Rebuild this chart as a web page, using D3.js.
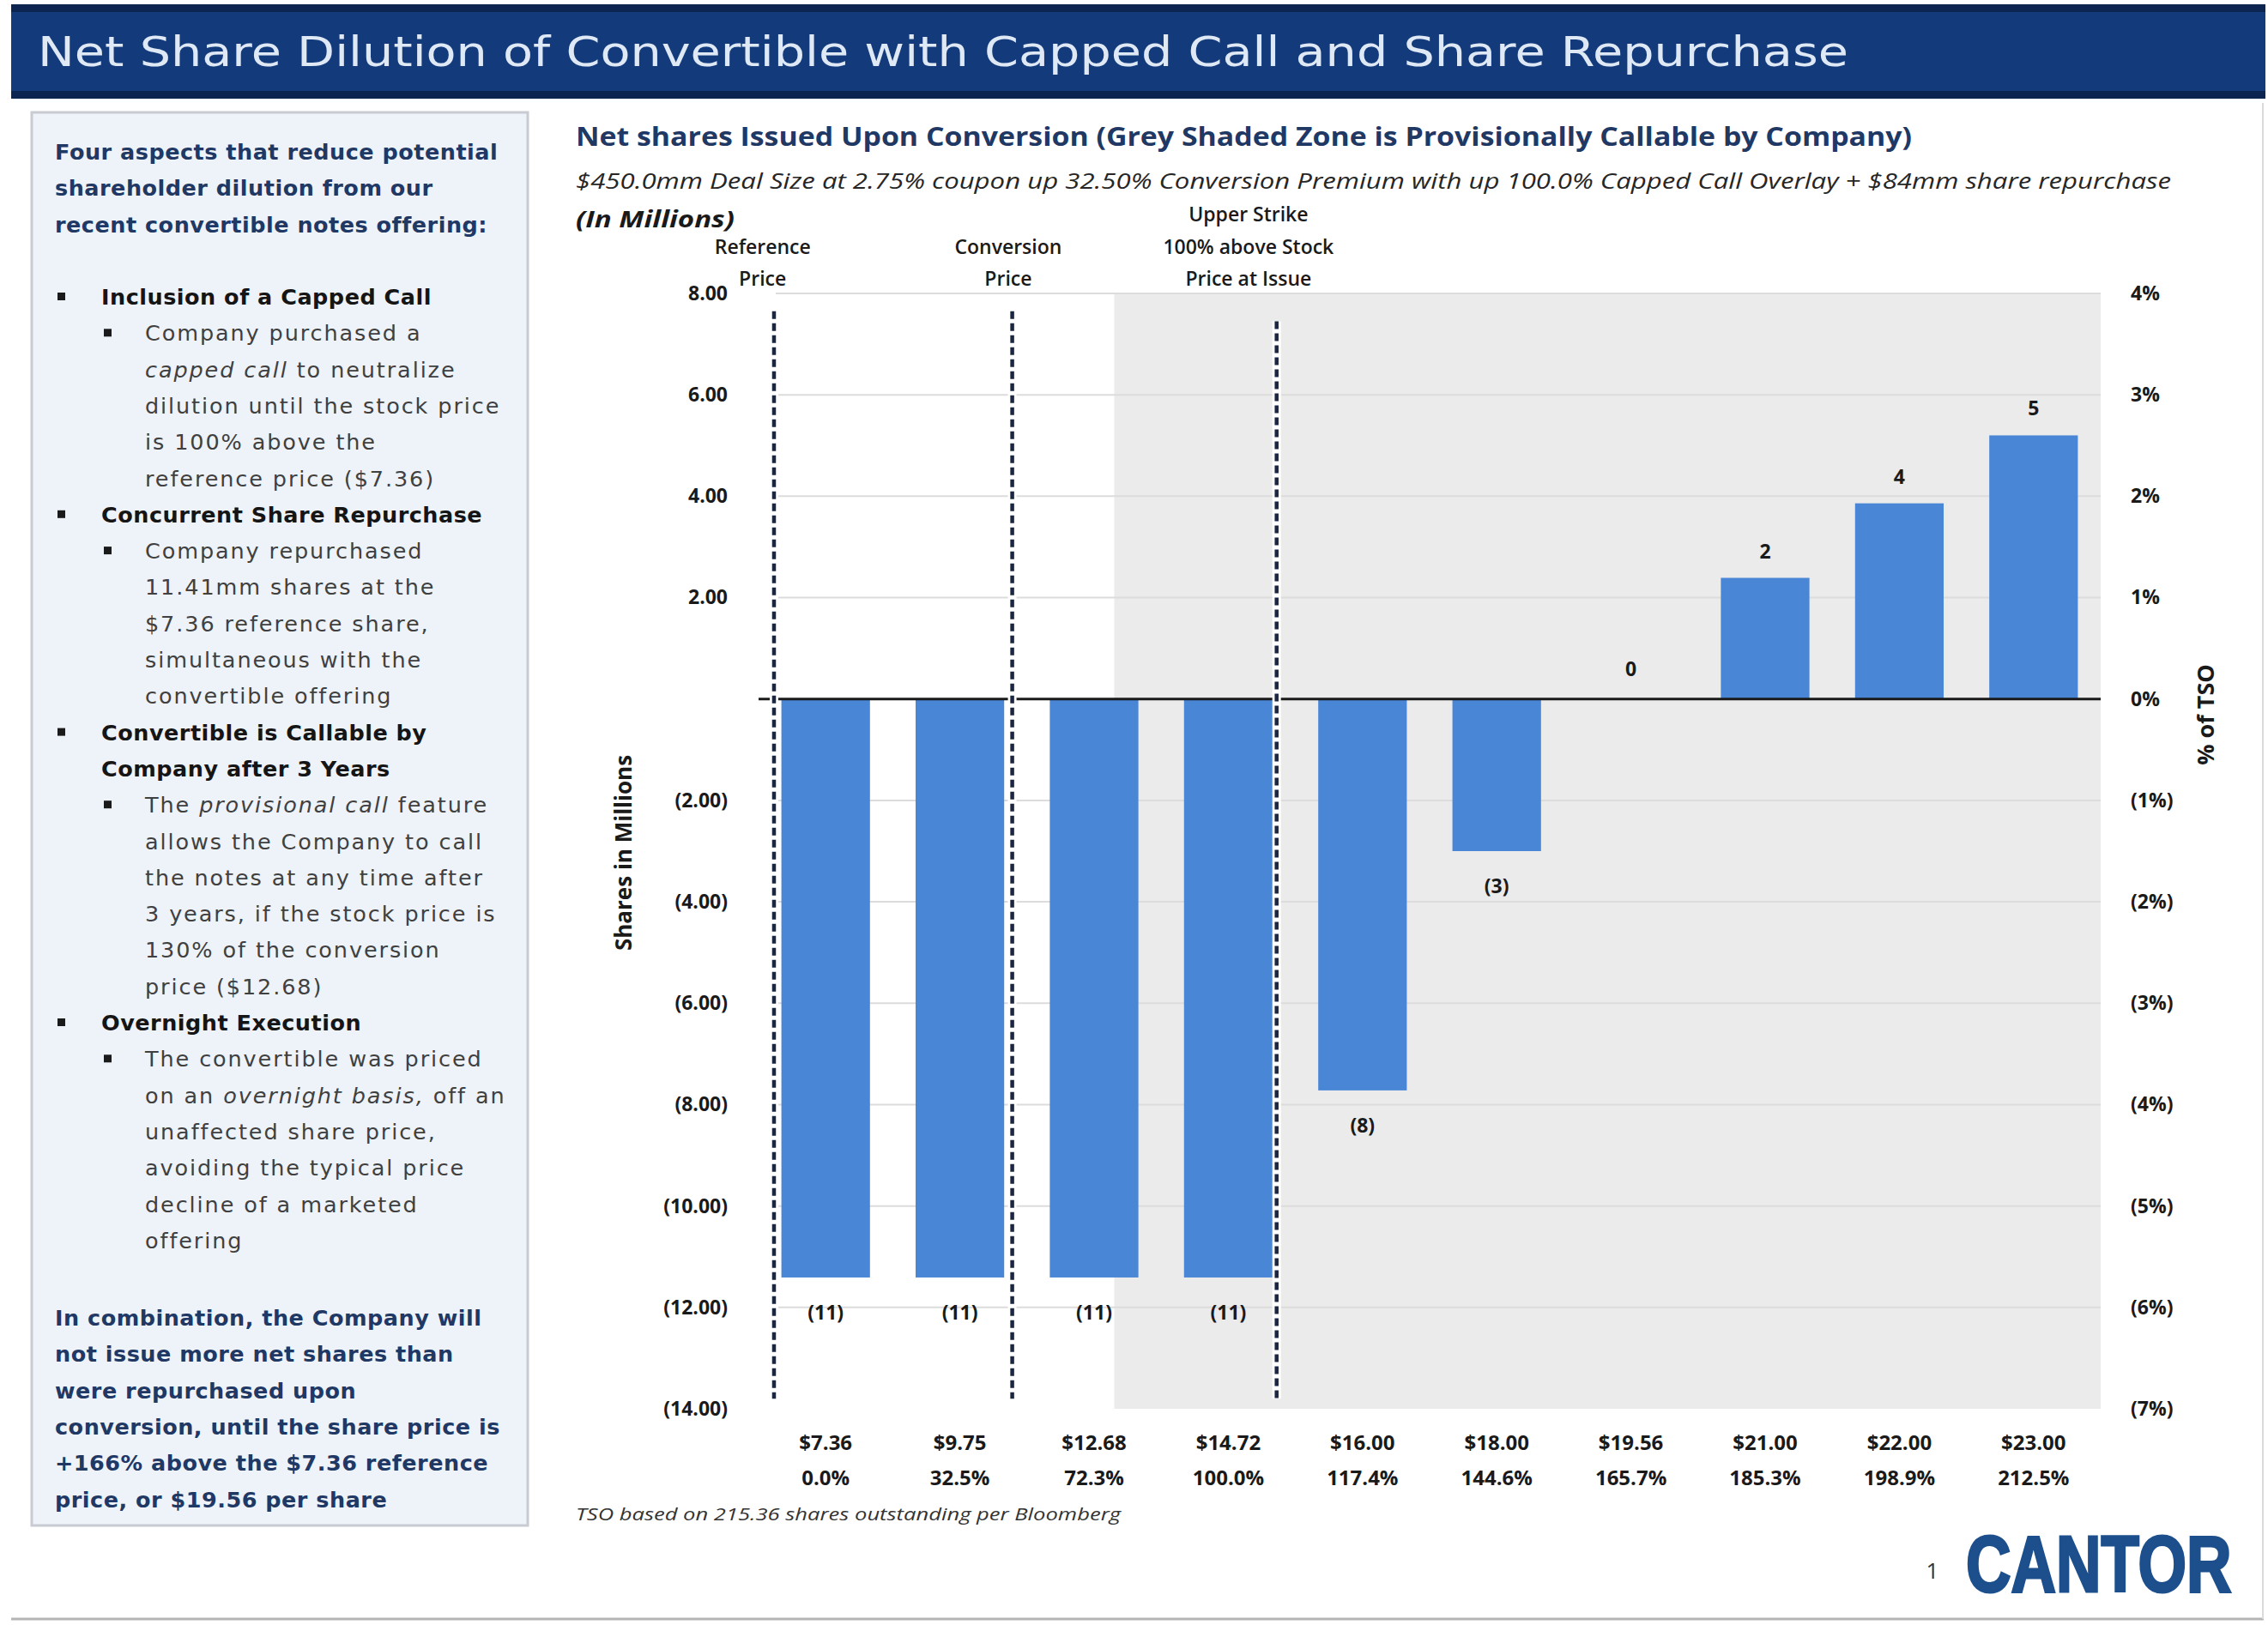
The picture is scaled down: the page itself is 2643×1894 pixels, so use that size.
<!DOCTYPE html>
<html>
<head>
<meta charset="utf-8">
<script src="https://cdn.jsdelivr.net/npm/d3@7"></script>
<style>
    body { margin: 0; background: #ffffff; }
    svg { display: block; }
</style>
</head>
<body>
<script>

// ---- data ----
let prices = ["$7.36", "$9.75", "$12.68", "$14.72", "$16.00", "$18.00", "$19.56", "$21.00", "$22.00", "$23.00"];
let premiums = ["0.0%", "32.5%", "72.3%", "100.0%", "117.4%", "144.6%", "165.7%", "185.3%", "198.9%", "212.5%"];
let netShares = [-11.41, -11.41, -11.41, -11.41, -7.72, -3.0, 0, 2.39, 3.86, 5.2];   // millions
let shareTicks = [8, 6, 4, 2, 0, -2, -4, -6, -8, -10, -12, -14];
let tsoTicks = [4, 3, 2, 1, 0, -1, -2, -3, -4, -5, -6, -7];
let markerLabels = [
    ["Reference", "Price"],
    ["Conversion", "Price"],
    ["Upper Strike", "100% above Stock", "Price at Issue"]
];

let slideTitle = "Net Share Dilution of Convertible with Capped Call and Share Repurchase";
let chartTitle = "Net shares Issued Upon Conversion (Grey Shaded Zone is Provisionally Callable by Company)";
let chartSubtitle = "$450.0mm Deal Size at 2.75% coupon up 32.50% Conversion Premium with up 100.0% Capped Call Overlay + $84mm share repurchase";
let footnote = "TSO based on 215.36 shares outstanding per Bloomberg";

let panelHead = ["Four aspects that reduce potential", "shareholder dilution from our", "recent convertible notes offering:"];
// level 1 = bold bullet, 0 = bold continuation, 2 = sub bullet, 3 = sub continuation; *...* is italic
let panelItems = [
    [1, "Inclusion of a Capped Call"],
    [2, "Company purchased a"],
    [3, "*capped call* to neutralize"],
    [3, "dilution until the stock price"],
    [3, "is 100% above the"],
    [3, "reference price ($7.36)"],
    [1, "Concurrent Share Repurchase"],
    [2, "Company repurchased"],
    [3, "11.41mm shares at the"],
    [3, "$7.36 reference share,"],
    [3, "simultaneous with the"],
    [3, "convertible offering"],
    [1, "Convertible is Callable by"],
    [0, "Company after 3 Years"],
    [2, "The *provisional call* feature"],
    [3, "allows the Company to call"],
    [3, "the notes at any time after"],
    [3, "3 years, if the stock price is"],
    [3, "130% of the conversion"],
    [3, "price ($12.68)"],
    [1, "Overnight Execution"],
    [2, "The convertible was priced"],
    [3, "on an *overnight basis,* off an"],
    [3, "unaffected share price,"],
    [3, "avoiding the typical price"],
    [3, "decline of a marketed"],
    [3, "offering"]
];
let panelFoot = ["In combination, the Company will", "not issue more net shares than", "were repurchased upon",
    "conversion, until the share price is", "+166% above the $7.36 reference", "price, or $19.56 per share"];


// ---- page ----
let width = 2643,
    height = 1894;

let navy = "#1f3864",
    barBlue = "#4a86d6",
    font = "'Open Sans', 'Liberation Sans', sans-serif",
    panelFont = "'DejaVu Sans', Verdana, sans-serif";

let svg = d3.select("body").append("svg")
    .attr("width", width)
    .attr("height", height)
    .style("font-family", font);

svg.append("rect")
    .attr("width", width)
    .attr("height", height)
    .attr("fill", "#ffffff");

// title bar
let header = svg.append("g");
header.append("rect")
    .attr("x", 13).attr("y", 5)
    .attr("width", 2627).attr("height", 110)
    .attr("fill", "#133b7b");
header.append("rect")
    .attr("x", 13).attr("y", 5)
    .attr("width", 2627).attr("height", 9)
    .attr("fill", "#0b2550");
header.append("rect")
    .attr("x", 13).attr("y", 106)
    .attr("width", 2627).attr("height", 9)
    .attr("fill", "#0b2550");
header.append("text")
    .attr("x", 44).attr("y", 77)
    .attr("font-family", "'DejaVu Sans', sans-serif")
    .attr("font-size", 48)
    .attr("fill", "#dfe8f5")
    .attr("textLength", 2110)
    .attr("lengthAdjust", "spacingAndGlyphs")
    .text(slideTitle);

// slide frame
svg.append("line")
    .attr("x1", 13).attr("x2", 2638)
    .attr("y1", 1887).attr("y2", 1887)
    .attr("stroke", "#b5b5b5").attr("stroke-width", 3);
svg.append("line")
    .attr("x1", 2637).attr("x2", 2637)
    .attr("y1", 120).attr("y2", 1887)
    .attr("stroke", "#dadada").attr("stroke-width", 2);


// ---- left panel ----
let panel = svg.append("g")
    .style("font-family", panelFont);

panel.append("rect")
    .attr("x", 37).attr("y", 131)
    .attr("width", 578).attr("height", 1647)
    .attr("fill", "#eef3f9")
    .attr("stroke", "#c8ccd2")
    .attr("stroke-width", 3);

let lineStep = 42.3,
    panelSize = 25.5;

function addRich(sel, str) {
    // split on * to alternate upright / italic runs
    str.split("*").forEach(function(part, i) {
        if (part === "") return;
        sel.append("tspan")
            .attr("font-style", i % 2 === 1 ? "italic" : "normal")
            .text(part);
    });
}

panel.selectAll(".head")
    .data(panelHead)
    .enter().append("text")
    .attr("class", "head")
    .attr("x", 64)
    .attr("y", (d, i) => 186 + i * lineStep)
    .attr("font-size", panelSize)
    .attr("font-weight", "bold")
    .attr("letter-spacing", 0.5)
    .attr("fill", navy)
    .text(d => d);

let items = panel.selectAll(".item")
    .data(panelItems)
    .enter().append("g")
    .attr("class", "item")
    .attr("transform", (d, i) => "translate(0," + (355 + i * lineStep) + ")");

// square bullets
items.filter(d => d[0] === 1 || d[0] === 2).append("rect")
    .attr("x", d => d[0] === 1 ? 67 : 121)
    .attr("y", -14)
    .attr("width", 9)
    .attr("height", 9)
    .attr("fill", "#1a1a1a");

items.append("text")
    .attr("x", d => d[0] <= 1 ? 118 : 169)
    .attr("font-size", panelSize)
    .attr("font-weight", d => d[0] <= 1 ? "bold" : "normal")
    .attr("letter-spacing", d => d[0] <= 1 ? 0.5 : 1.9)
    .attr("fill", d => d[0] <= 1 ? "#151515" : "#404040")
    .each(function(d) { addRich(d3.select(this), d[1]); });

panel.selectAll(".foot")
    .data(panelFoot)
    .enter().append("text")
    .attr("class", "foot")
    .attr("x", 64)
    .attr("y", (d, i) => 1545 + i * lineStep)
    .attr("font-size", panelSize)
    .attr("font-weight", "bold")
    .attr("letter-spacing", 0.5)
    .attr("fill", navy)
    .text(d => d);


// ---- chart ----
let plotLeft = 884,
    plotRight = 2448,
    plotTop = 342,
    plotBottom = 1642;

let x = d3.scaleBand()
    .domain(prices)
    .range([plotLeft, plotRight])
    .paddingInner(0.34)
    .paddingOuter(0.17);

// fractional category position -> pixel, used for the marker lines and shading
let idx = d3.scaleLinear()
    .domain([0, prices.length - 1])
    .range([x(prices[0]) + x.bandwidth() / 2, x(prices[prices.length - 1]) + x.bandwidth() / 2]);

let y = d3.scaleLinear()
    .domain([-14, 8])
    .range([plotBottom, plotTop]);

let yPct = d3.scaleLinear()
    .domain([-7, 4])
    .range([plotBottom, plotTop]);

let chart = svg.append("g");

// titles
chart.append("text")
    .attr("x", 671).attr("y", 170)
    .attr("font-size", 31)
    .attr("font-weight", "bold")
    .attr("fill", navy)
    .attr("textLength", 1557)
    .attr("lengthAdjust", "spacingAndGlyphs")
    .text(chartTitle);

chart.append("text")
    .attr("x", 671).attr("y", 220)
    .attr("font-size", 25)
    .attr("font-style", "italic")
    .attr("fill", "#262626")
    .attr("textLength", 1859)
    .attr("lengthAdjust", "spacingAndGlyphs")
    .text(chartSubtitle);

chart.append("text")
    .attr("x", 671).attr("y", 265)
    .attr("font-size", 26)
    .attr("font-style", "italic")
    .attr("font-weight", "bold")
    .attr("fill", "#1a1a1a")
    .attr("textLength", 185)
    .attr("lengthAdjust", "spacingAndGlyphs")
    .text("(In Millions)");

// grey provisionally callable zone
let shadeStart = 2.15;
chart.append("rect")
    .attr("x", idx(shadeStart))
    .attr("y", plotTop)
    .attr("width", plotRight - idx(shadeStart))
    .attr("height", plotBottom - plotTop)
    .attr("fill", "#ebebeb");

// gridlines
chart.append("g")
    .selectAll("line")
    .data(shareTicks.filter(d => d !== 0 && d !== -14))
    .enter().append("line")
    .attr("x1", plotLeft + 20)
    .attr("x2", plotRight)
    .attr("y1", d => y(d))
    .attr("y2", d => y(d))
    .attr("stroke", "#dcdcdc")
    .attr("stroke-width", 2);

// bars
chart.append("g")
    .selectAll("rect")
    .data(netShares)
    .enter().append("rect")
    .attr("x", (d, i) => x(prices[i]))
    .attr("width", x.bandwidth())
    .attr("y", d => y(Math.max(0, d)))
    .attr("height", d => Math.abs(y(d) - y(0)))
    .attr("fill", barBlue);

// zero line
chart.append("line")
    .attr("x1", plotLeft).attr("x2", plotRight)
    .attr("y1", y(0)).attr("y2", y(0))
    .attr("stroke", "#1a1a1a")
    .attr("stroke-width", 3);

// bar value labels
let fmtValue = function(v) {
    let r = Math.round(v);
    return r < 0 ? "(" + Math.abs(r) + ")" : String(r);
};

chart.append("g")
    .selectAll("text")
    .data(netShares)
    .enter().append("text")
    .attr("x", (d, i) => x(prices[i]) + x.bandwidth() / 2)
    .attr("y", function(d) {
        if (d < 0) return y(d) + 49;
        if (d === 0) return y(0) - 27;
        return y(d) - 23;
    })
    .attr("text-anchor", "middle")
    .attr("font-size", 23)
    .attr("font-weight", "bold")
    .attr("fill", "#1a1a1a")
    .text(fmtValue);

// dashed marker lines with their captions
let markerPos = [-0.385, 1.39, 3.36],
    markerTextPos = [-0.47, 1.36, 3.15],
    markerTop = [7.65, 7.65, 7.45];

let markers = chart.append("g")
    .selectAll("g")
    .data(markerLabels)
    .enter().append("g");

markers.append("line")
    .attr("x1", (d, i) => idx(markerPos[i]))
    .attr("x2", (d, i) => idx(markerPos[i]))
    .attr("y1", (d, i) => y(markerTop[i]))
    .attr("y2", y(-13.8))
    .attr("stroke", "#ffffff")
    .attr("stroke-width", 10);

markers.append("line")
    .attr("x1", (d, i) => idx(markerPos[i]))
    .attr("x2", (d, i) => idx(markerPos[i]))
    .attr("y1", (d, i) => y(markerTop[i]))
    .attr("y2", y(-13.8))
    .attr("stroke", "#1b2640")
    .attr("stroke-width", 4.5)
    .attr("stroke-dasharray", "9 5");

markers.each(function(lines, i) {
    let g = d3.select(this);
    lines.forEach(function(t, j) {
        g.append("text")
            .attr("x", idx(markerTextPos[i]))
            .attr("y", 333 - (lines.length - 1 - j) * 37.5)
            .attr("text-anchor", "middle")
            .attr("font-size", 23)
            .attr("font-weight", 600)
            .attr("fill", "#1a1a1a")
            .text(t);
    });
});

// left axis
let fmtShares = function(v) {
    if (v === 0) return "";
    return v < 0 ? "(" + Math.abs(v).toFixed(2) + ")" : v.toFixed(2);
};

let yAxis = chart.append("g")
    .attr("transform", "translate(848,0)")
    .call(d3.axisLeft(y).tickValues(shareTicks).tickFormat(fmtShares).tickSize(0).tickPadding(0));
yAxis.select(".domain").remove();
yAxis.selectAll("text")
    .attr("font-family", font)
    .attr("font-size", 23)
    .attr("font-weight", "bold")
    .attr("fill", "#1a1a1a");

// right axis
let fmtPct = function(v) {
    return v < 0 ? "(" + Math.abs(v) + "%)" : v + "%";
};

let pAxis = chart.append("g")
    .attr("transform", "translate(2483,0)")
    .call(d3.axisRight(yPct).tickValues(tsoTicks).tickFormat(fmtPct).tickSize(0).tickPadding(0));
pAxis.select(".domain").remove();
pAxis.selectAll("text")
    .attr("font-family", font)
    .attr("font-size", 23)
    .attr("font-weight", "bold")
    .attr("fill", "#1a1a1a");

// axis titles
chart.append("text")
    .attr("transform", "translate(736,994) rotate(-90)")
    .attr("text-anchor", "middle")
    .attr("font-size", 26)
    .attr("font-weight", "bold")
    .attr("fill", "#1a1a1a")
    .text("Shares in Millions");

chart.append("text")
    .attr("transform", "translate(2580,833) rotate(-90)")
    .attr("text-anchor", "middle")
    .attr("font-size", 27)
    .attr("font-weight", "bold")
    .attr("fill", "#1a1a1a")
    .text("% of TSO");

// category labels: price row and premium row
let xAxis = chart.append("g")
    .attr("transform", "translate(0,1673)")
    .call(d3.axisBottom(x).tickSize(0).tickPadding(0));
let premAxis = chart.append("g")
    .attr("transform", "translate(0,1714)")
    .call(d3.axisBottom(x).tickSize(0).tickPadding(0).tickFormat((d, i) => premiums[i]));

[xAxis, premAxis].forEach(function(a) {
    a.select(".domain").remove();
    a.selectAll("text")
        .attr("font-family", font)
        .attr("font-size", 24)
        .attr("font-weight", "bold")
        .attr("fill", "#1a1a1a");
});

chart.append("text")
    .attr("x", 671).attr("y", 1772)
    .attr("font-size", 20)
    .attr("font-style", "italic")
    .attr("fill", "#333")
    .attr("textLength", 635)
    .attr("lengthAdjust", "spacingAndGlyphs")
    .text(footnote);

// page number and logo
svg.append("text")
    .attr("x", 2252).attr("y", 1840)
    .attr("text-anchor", "middle")
    .attr("font-size", 26)
    .attr("fill", "#333")
    .text("1");

// logo squeezed with a transform so its real box stays on the page
svg.append("text")
    .attr("transform", "translate(2291,1855) scale(0.79,1)")
    .attr("font-family", "'Liberation Sans', Arial, sans-serif")
    .attr("font-size", 92)
    .attr("font-weight", "bold")
    .attr("fill", "#1c4f8c")
    .attr("stroke", "#1c4f8c")
    .attr("stroke-width", 3)
    .text("CANTOR");

</script>
</body>
</html>
